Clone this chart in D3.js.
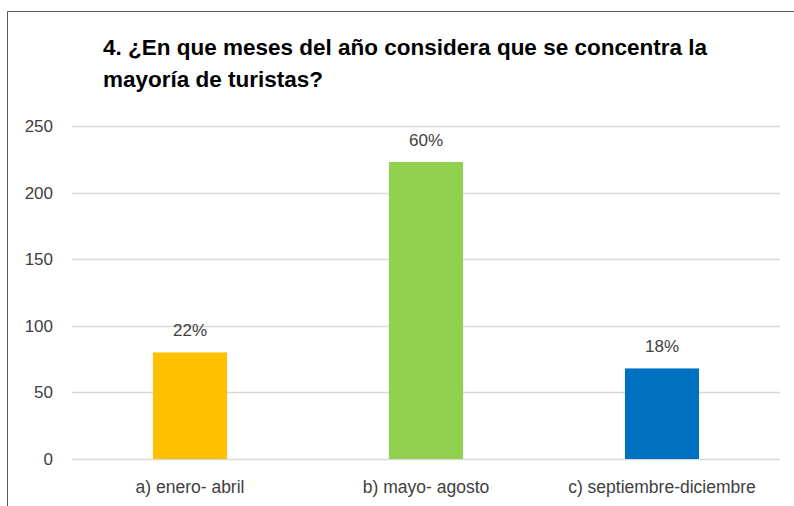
<!DOCTYPE html>
<html><head><meta charset="utf-8">
<script src="https://cdn.jsdelivr.net/npm/d3@7"></script>
<style>
html,body{margin:0;padding:0;background:#fff;}
svg{display:block;}
</style></head>
<body>
<svg id="chart" width="794" height="506"></svg>
<script>
const categories = ["a) enero- abril", "b) mayo- agosto", "c) septiembre-diciembre"];
const values = [80, 223, 68];
const percentLabels = ["22%", "60%", "18%"];
const colors = ["#FFC000", "#92D050", "#0070C0"];
const yTicks = [0, 50, 100, 150, 200, 250];
const titleLines = ["4. ¿En que meses del año considera que se concentra la", "mayoría de turistas?"];

const svg = d3.select("#chart");
const W = 794, H = 506;
const m = {left: 72, right: 14, top: 126, bottom: 47};
const plotW = W - m.left - m.right, plotH = H - m.top - m.bottom;
const FONT = "Liberation Sans, Arial, sans-serif";

// frame
svg.append("path").attr("d", `M7.5,${H} L7.5,11.5 L${W},11.5`).attr("fill","none").attr("stroke","#595959").attr("stroke-width",1);

const x = d3.scaleBand().domain(categories).range([m.left, m.left + plotW]).padding(0);
const y = d3.scaleLinear().domain([0, 250]).range([m.top + plotH, m.top]);

// gridlines
svg.append("g").selectAll("line").data(yTicks).join("line")
  .attr("x1", m.left).attr("x2", m.left + plotW)
  .attr("y1", d => Math.round(y(d)) + 0.5).attr("y2", d => Math.round(y(d)) + 0.5)
  .attr("stroke", "#D9D9D9").attr("stroke-width", 1.5);

// y axis labels
const yAxis = d3.axisLeft(y).tickValues(yTicks).tickSize(0).tickPadding(19);
const gy = svg.append("g").attr("transform", `translate(${m.left},0)`).call(yAxis);
gy.select(".domain").remove();
gy.selectAll("text").attr("font-family", FONT).attr("font-size", 17).attr("fill", "#404040");

// bars
const bw = x.bandwidth() * 0.314;
svg.append("g").selectAll("rect").data(values).join("rect")
  .attr("x", (d, i) => x(categories[i]) + x.bandwidth() / 2 - bw / 2)
  .attr("width", bw)
  .attr("y", d => y(d))
  .attr("height", d => y(0) - y(d))
  .attr("fill", (d, i) => colors[i]);

// value labels
svg.append("g").selectAll("text").data(values).join("text")
  .attr("x", (d, i) => x(categories[i]) + x.bandwidth() / 2)
  .attr("y", d => y(d) - 16)
  .attr("text-anchor", "middle")
  .attr("font-family", FONT).attr("font-size", 17).attr("fill", "#404040")
  .text((d, i) => percentLabels[i]);

// x axis labels
const xAxis = d3.axisBottom(x).tickSize(0).tickPadding(22);
const gx = svg.append("g").attr("transform", `translate(0,${y(0)})`).call(xAxis);
gx.select(".domain").remove();
gx.selectAll("text").attr("font-family", FONT).attr("font-size", 17.5).attr("fill", "#404040");

// title
svg.append("g").selectAll("text").data(titleLines).join("text")
  .attr("x", 103).attr("y", (d, i) => 54.5 + i * 32.5)
  .attr("font-family", FONT).attr("font-weight", "bold").attr("font-size", 22.5).attr("fill", "#000")
  .text(d => d);
</script>
</body></html>
